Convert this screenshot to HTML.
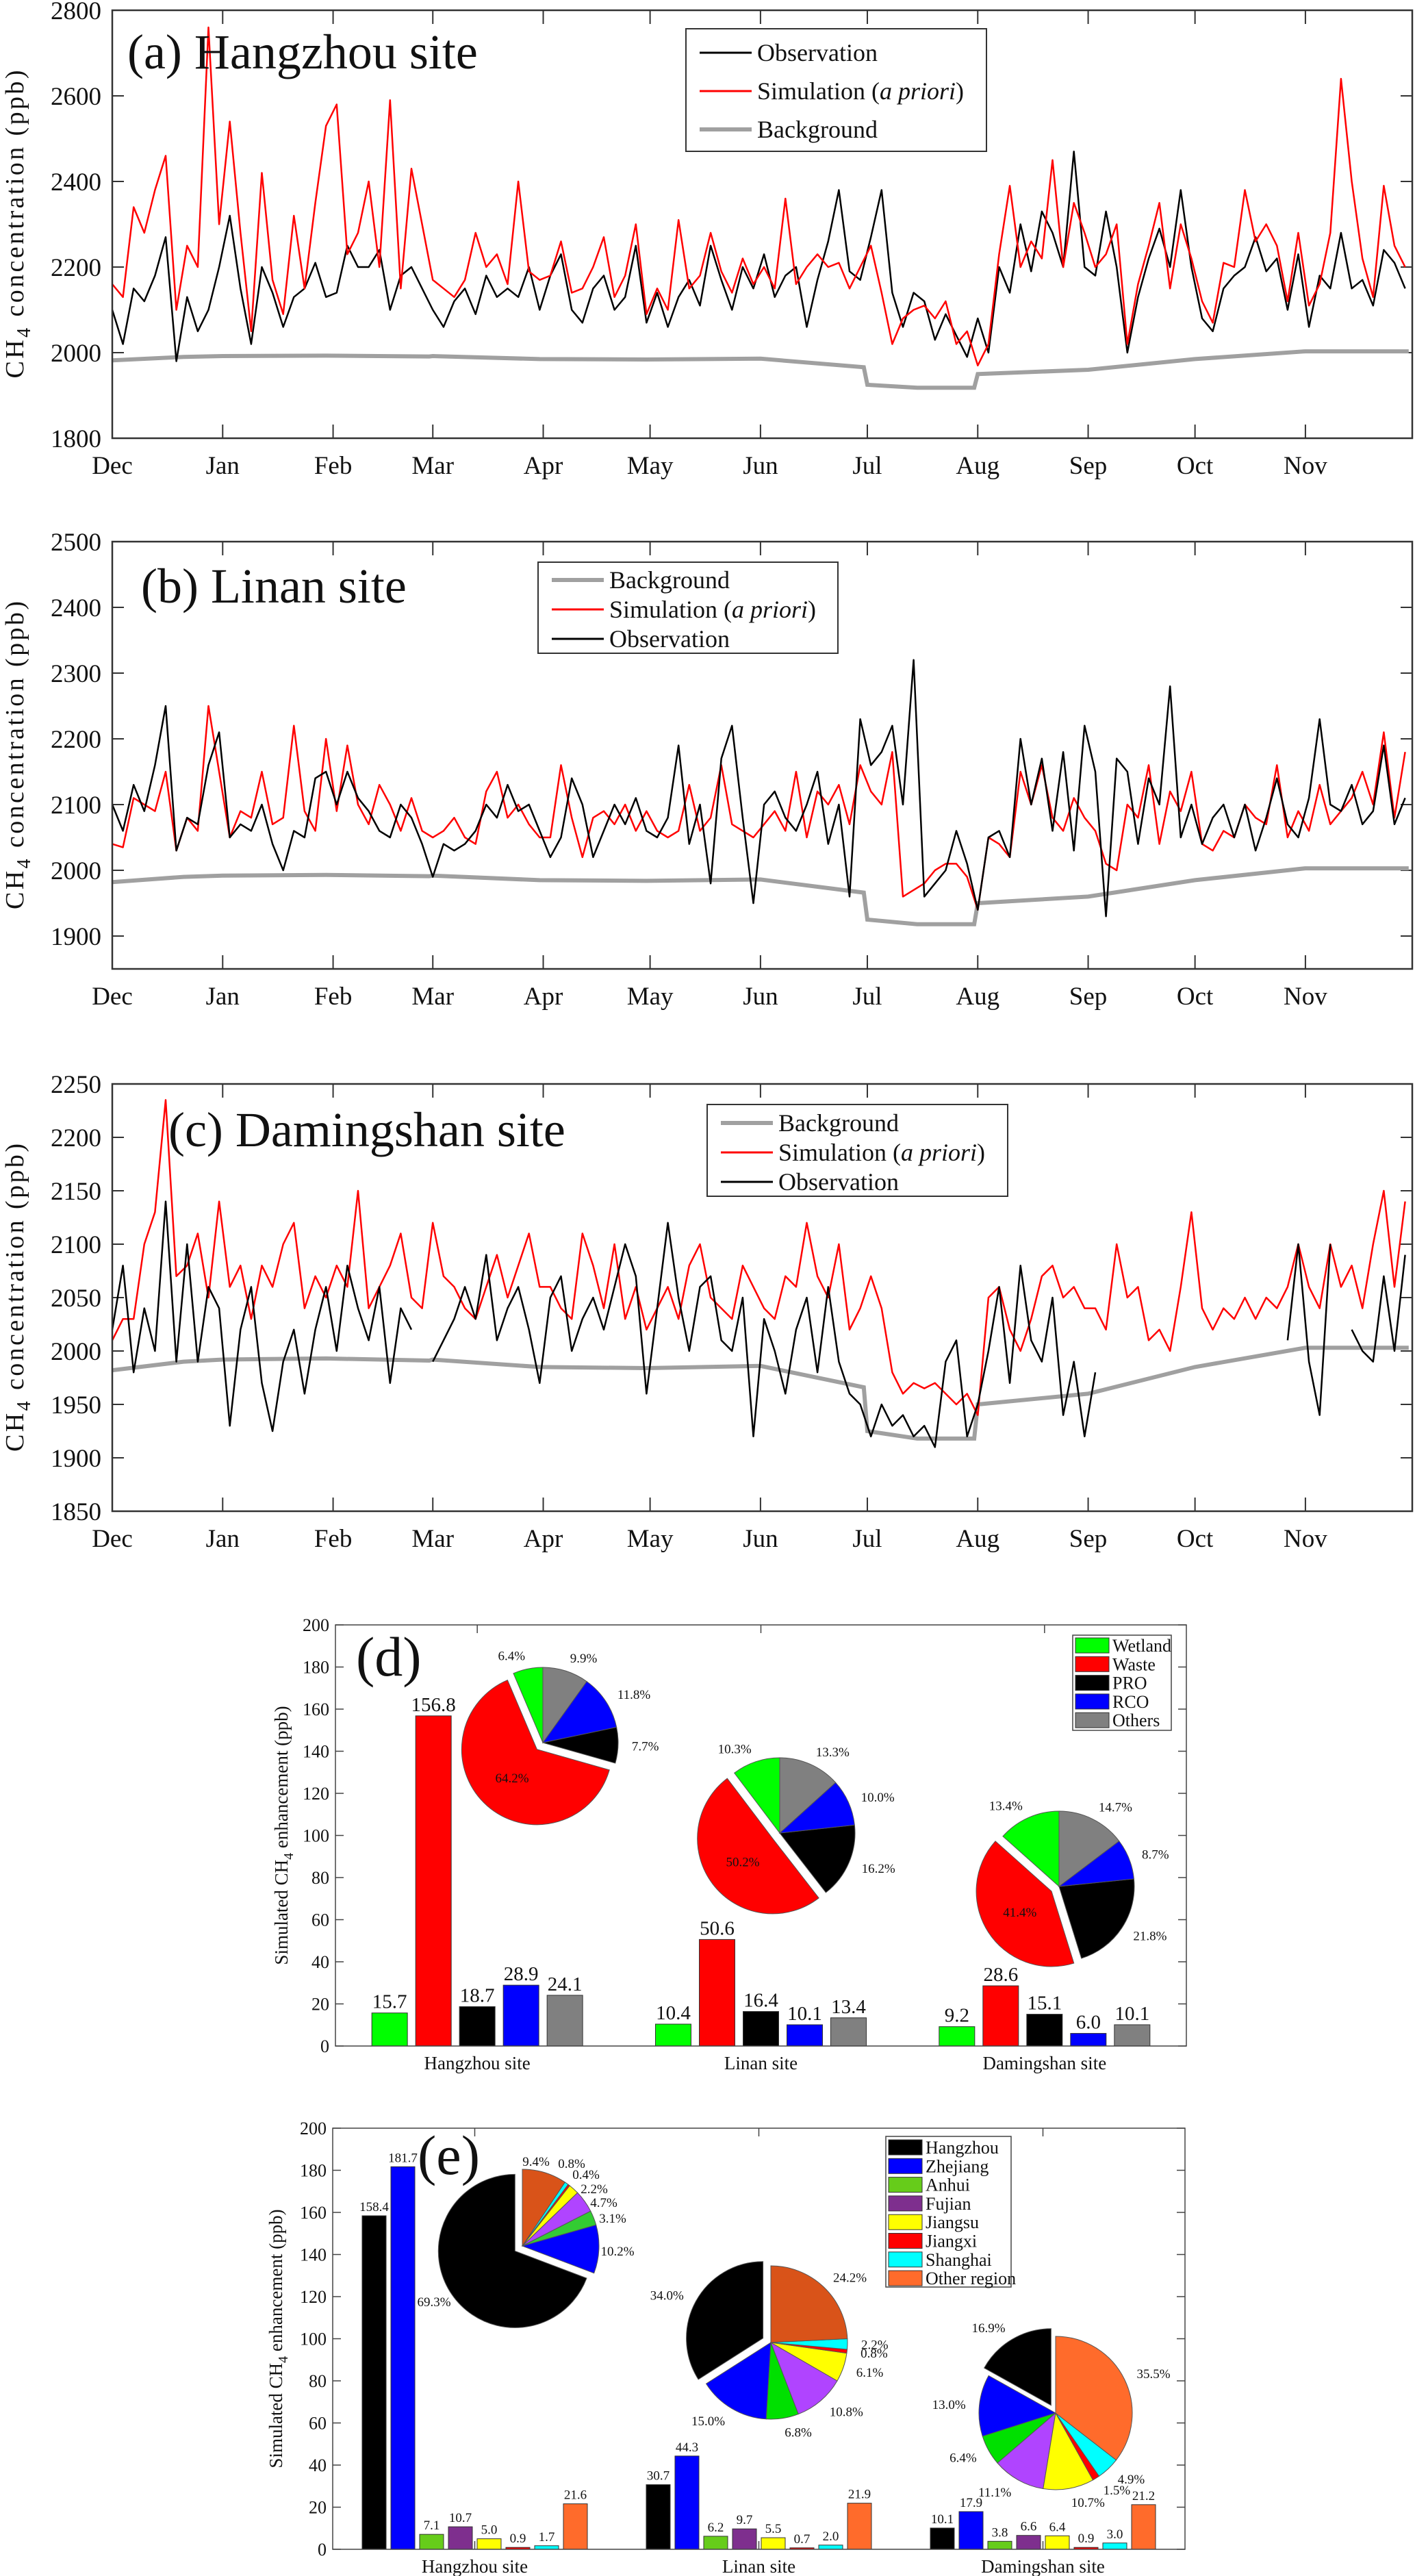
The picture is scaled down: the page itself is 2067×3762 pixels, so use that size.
<!DOCTYPE html>
<html><head><meta charset="utf-8"><style>
html,body{margin:0;padding:0;background:#fff}
svg{display:block}
text{font-family:"Liberation Serif",serif;fill:#111}
</style></head><body>
<svg id="fig" width="2067" height="3762" viewBox="0 0 2067 3762" xmlns="http://www.w3.org/2000/svg"></svg>
<script>
// ---------- time series data (every 3 days from Dec 1) ----------
const monthLabels=["Dec","Jan","Feb","Mar","Apr","May","Jun","Jul","Aug","Sep","Oct","Nov"];
const monthStartDays=[0,31,62,90,121,151,182,212,243,274,304,335];
const bgDays=[0,20,31,60,89,90,120,150,182,211,212,226,242,243,274,304,335,364];
const bgA=[1982,1990,1992,1993,1991,1992,1985,1984,1986,1966,1925,1918,1918,1950,1960,1985,2003,2003];
const bgB=[1982,1990,1992,1993,1991,1992,1985,1984,1986,1966,1925,1918,1918,1950,1960,1985,2003,2003];
const bgC=[1982,1990,1992,1993,1991,1992,1985,1984,1986,1966,1925,1918,1918,1950,1960,1985,2003,2003];
const obsA=[2100,2020,2150,2120,2180,2270,1980,2130,2050,2100,2200,
2320,2150,2020,2200,2140,2060,2130,2150,2210,2130,
2140,2250,2200,2200,2240,2100,2180,2200,2150,2100,
2060,2120,2150,2090,2180,2130,2150,2130,2200,2100,
2180,2230,2100,2070,2150,2180,2100,2130,2250,2070,
2140,2060,2130,2170,2110,2250,2170,2100,2200,2150,
2230,2130,2180,2200,2060,2170,2260,2380,2190,2170,
2270,2380,2140,2060,2140,2120,2030,2090,2040,1990,2080,
2000,2200,2140,2300,2190,2330,2280,2200,2470,2200,
2180,2330,2200,2000,2130,2220,2290,2200,2380,2200,
2080,2050,2150,2180,2200,2270,2190,2220,2100,2230,2060,
2180,2150,2280,2150,2170,2110,2240,2210,2150];
const simA=[2160,2130,2340,2280,2380,2460,2100,2250,2200,2760,2300,
2540,2280,2050,2420,2170,2090,2320,2150,2350,2530,
2580,2230,2280,2400,2200,2590,2150,2430,2300,2170,
2150,2130,2170,2280,2200,2230,2160,2400,2190,2170,
2180,2260,2140,2150,2200,2270,2130,2180,2300,2090,
2150,2100,2310,2150,2180,2280,2190,2140,2220,2160,
2200,2150,2360,2160,2200,2230,2200,2210,2150,2200,
2250,2140,2020,2080,2100,2110,2080,2120,2020,2050,1970,
2020,2230,2390,2200,2260,2220,2450,2200,2350,2280,
2200,2230,2300,2020,2160,2250,2350,2150,2300,2220,
2120,2070,2210,2200,2380,2260,2300,2250,2120,2280,2110,
2160,2280,2640,2400,2220,2130,2390,2250,2200];
const obsB=[2100,2060,2130,2090,2160,2250,2030,2080,2070,2160,2210,
2050,2070,2060,2100,2040,2000,2060,2050,2140,2150,
2100,2150,2110,2090,2060,2050,2100,2080,2040,1990,
2040,2030,2040,2060,2100,2080,2130,2090,2100,2060,
2020,2050,2140,2100,2020,2060,2100,2070,2110,2060,
2050,2080,2190,2040,2100,1980,2170,2220,2080,1950,
2100,2120,2080,2060,2100,2150,2040,2100,1960,2230,
2160,2180,2220,2100,2320,1960,1980,2000,2060,2010,1940,
2050,2060,2020,2200,2100,2170,2060,2180,2030,2220,
2150,1930,2170,2150,2040,2140,2100,2280,2050,2100,
2040,2080,2100,2050,2100,2030,2080,2140,2070,2050,2110,
2230,2100,2090,2130,2070,2090,2190,2070,2110];
const simB=[2040,2035,2110,2100,2090,2150,2030,2080,2060,2250,2150,
2050,2090,2080,2150,2070,2080,2220,2090,2060,2200,
2090,2190,2100,2070,2130,2100,2060,2110,2060,2050,
2060,2080,2050,2040,2120,2150,2080,2100,2070,2050,
2050,2160,2080,2020,2080,2090,2070,2100,2060,2090,
2060,2050,2060,2130,2060,2080,2160,2070,2060,2050,
2070,2090,2060,2150,2050,2120,2100,2130,2070,2160,
2120,2100,2180,1960,1970,1980,2000,2010,2010,1990,1940,
2050,2040,2020,2150,2100,2160,2080,2060,2110,2080,
2060,2010,2000,2100,2080,2160,2040,2120,2090,2150,
2040,2030,2060,2050,2100,2080,2070,2160,2050,2090,2060,
2130,2070,2090,2110,2150,2100,2210,2080,2180];
const obsC=[2020,2080,1980,2040,2000,2140,1990,2100,1990,2060,2040,
1930,2020,2060,1970,1925,1990,2020,1960,2020,2060,
2000,2080,2040,2010,2060,1970,2040,2020,null,1990,
2010,2030,2060,2030,2090,2010,2040,2060,2020,1970,
2050,2070,2000,2030,2050,2020,2060,2100,2070,1960,
2040,2120,2050,2000,2060,2070,2010,2000,2050,1920,
2030,2000,1960,2020,2050,1980,2060,1990,1960,1950,
1920,1950,1930,1940,1920,1930,1910,1990,2010,1920,1950,
2000,2060,1970,2080,2010,1990,2050,1940,1990,1920,
1980,null,null,null,null,null,null,null,null,null,
null,null,null,null,null,null,null,null,2010,2100,1990,
1940,2100,null,2020,2000,1990,2070,2000,2090];
const simC=[2010,2030,2030,2100,2130,2235,2070,2080,2110,2050,2140,
2060,2080,2030,2080,2060,2100,2120,2040,2070,2050,
2080,2060,2150,2040,2060,2080,2110,2050,2040,2120,
2070,2060,2040,2030,2060,2090,2050,2080,2110,2060,
2060,2040,2030,2110,2080,2040,2100,2030,2060,2020,
2040,2060,2030,2080,2100,2050,2040,2030,2080,2060,
2040,2030,2070,2060,2120,2070,2050,2100,2020,2040,
2070,2040,1980,1960,1970,1965,1970,1960,1950,1960,1940,
2050,2060,2020,2000,2030,2070,2080,2050,2060,2040,
2040,2020,2100,2050,2060,2010,2020,2000,2060,2130,
2040,2020,2040,2030,2050,2030,2050,2040,2060,2100,2060,
2040,2100,2060,2080,2040,2100,2150,2060,2140];
const ticksA=[1800,2000,2200,2400,2600,2800];
const ticksB=[1900,2000,2100,2200,2300,2400,2500];
const ticksC=[1850,1900,1950,2000,2050,2100,2150,2200,2250];

// ---------- bar/pie data ----------
const siteLabels=["Hangzhou site","Linan site","Damingshan site"];
const sectorNames=["Wetland","Waste","PRO","RCO","Others"];
const sectorWetland=[15.7,10.4,9.2];
const sectorWaste=[156.8,50.6,28.6];
const sectorPRO=[18.7,16.4,15.1];
const sectorRCO=[28.9,10.1,6.0];
const sectorOthers=[24.1,13.4,10.1];
const pieSecHangzhou=[6.4,64.2,7.7,11.8,9.9];
const pieSecLinan=[10.3,50.2,16.2,10.0,13.3];
const pieSecDamingshan=[13.4,41.4,21.8,8.7,14.7];
const regionNames=["Hangzhou","Zhejiang","Anhui","Fujian","Jiangsu","Jiangxi","Shanghai","Other region"];
const regHangzhou=[158.4,181.7,7.1,10.7,5.0,0.9,1.7,21.6];
const regLinan=[30.7,44.3,6.2,9.7,5.5,0.7,2.0,21.9];
const regDamingshan=[10.1,17.9,3.8,6.6,6.4,0.9,3.0,21.2];
const pieRegHangzhou=[69.3,10.2,3.1,4.7,2.2,0.4,0.8,9.4];
const pieRegLinan=[34.0,15.0,6.8,10.8,6.1,0.8,2.2,24.2];
const pieRegDamingshan=[16.9,13.0,6.4,11.1,10.7,1.5,4.9,35.5];
const barTicks=[0,20,40,60,80,100,120,140,160,180,200];

const NS="http://www.w3.org/2000/svg";
const svg=document.getElementById('fig');
function mk(tag,attrs,parent){const e=document.createElementNS(NS,tag);for(const k in attrs)e.setAttribute(k,attrs[k]);(parent||svg).appendChild(e);return e;}
function txt(s,attrs,parent){const e=mk('text',attrs,parent);e.textContent=s;return e;}

// ---------- time series panels ----------
function tsPanel(cfg){
  const g=mk('g',{});
  
  
  const L=164,R=2063,T=cfg.top,B=cfg.bottom;
  const xs=d=>L+d*(R-L)/365;
  const ys=v=>B-(v-cfg.ymin)/(cfg.ymax-cfg.ymin)*(B-T);
  cfg.ticks.forEach(v=>{
    const y=ys(v);
    const t1=mk('line',{x1:L,x2:L+17,y1:y,y2:y,stroke:'#333','stroke-width':2},g);
    
    mk('line',{x1:R-17,x2:R,y1:y,y2:y,stroke:'#333','stroke-width':2},g);
    const lb=txt(String(v),{x:148,y:y+13,'font-size':37,'text-anchor':'end'},g);
    
  });
  monthStartDays.forEach((d,i)=>{
    const x=xs(d);
    mk('line',{x1:x,x2:x,y1:B,y2:B-20,stroke:'#333','stroke-width':2},g);
    mk('line',{x1:x,x2:x,y1:T,y2:T+20,stroke:'#333','stroke-width':2},g);
    const lb=txt(monthLabels[i],{x:x,y:B+52,'font-size':37,'text-anchor':'middle'},g);
    
  });
  function path(vals,dayf){
    let d='',pen=false;
    vals.forEach((v,i)=>{if(v===null){pen=false;return;}d+=(pen?'L':'M')+xs(dayf(i)).toFixed(1)+' '+ys(v).toFixed(1);pen=true;});
    return d;
  }
  const bg=mk('path',{d:path(cfg.bg,i=>bgDays[i]),fill:'none',stroke:'#a0a0a0','stroke-width':6},g);
  
  const order=cfg.obsOnTop?[['sim','#ff0000'],['obs','#000']]:[['obs','#000'],['sim','#ff0000']];
  order.forEach(([k,c])=>{
    const p=mk('path',{d:path(cfg[k],i=>i*3),fill:'none',stroke:c,'stroke-width':2.5,'stroke-linejoin':'round'},g);
    
    
  });
  const fr=mk('rect',{x:L,y:T,width:R-L,height:B-T,fill:'none',stroke:'#333','stroke-width':2.5},g);
  
  const yt=txt('',{x:0,y:0,'font-size':38,'text-anchor':'middle',transform:`translate(34,${(T+B)/2}) rotate(-90)`,textLength:cfg.ylen,lengthAdjust:'spacing'},g);
  yt.innerHTML='CH<tspan font-size="28" dy="10">4</tspan><tspan dy="-10"> concentration (ppb)</tspan>';
  
  const tl=txt(cfg.label,{x:cfg.tx,y:cfg.ty,'font-size':72},g);
  
  const lg=mk('g',{},g);
  
  mk('rect',{x:cfg.lx,y:cfg.ly,width:cfg.lw,height:cfg.lh,fill:'#fff',stroke:'#333','stroke-width':2},lg);
  cfg.legend.forEach((it,i)=>{
    const y=cfg.ly+cfg.lfirst+i*cfg.lstep;
    mk('line',{x1:cfg.lx+20,x2:cfg.lx+96,y1:y,y2:y,stroke:it[1],'stroke-width':it[2]},lg);
    const t=txt('',{x:cfg.lx+104,y:y+12,'font-size':36},lg);
    t.innerHTML=it[0];
    
  });
}
const legObs=['Observation','#000',3], legSim=['Simulation (<tspan font-style="italic">a priori</tspan>)','#ff0000',3], legBg=['Background','#a0a0a0',6];
tsPanel({name:'panel-a-hangzhou',top:15,bottom:640,ymin:1800,ymax:2800,ticks:ticksA,bg:bgA,obs:obsA,sim:simA,label:'(a) Hangzhou site',tx:186,ty:100,ylen:450,
  lx:1002,ly:42,lw:439,lh:179,lfirst:35,lstep:56,legend:[legObs,legSim,legBg]});
tsPanel({name:'panel-b-linan',top:791,bottom:1415,ymin:1850,ymax:2500,ticks:ticksB,bg:bgB,obs:obsB,sim:simB,label:'(b) Linan site',tx:206,ty:880,ylen:450,obsOnTop:true,
  lx:786,ly:821,lw:438,lh:133,lfirst:26,lstep:43,legend:[legBg,legSim,legObs]});
tsPanel({name:'panel-c-damingshan',top:1583,bottom:2207,ymin:1850,ymax:2250,ticks:ticksC,bg:bgC,obs:obsC,sim:simC,label:'(c) Damingshan site',tx:246,ty:1674,ylen:450,obsOnTop:true,
  lx:1033,ly:1613,lw:439,lh:134,lfirst:27,lstep:43,legend:[legBg,legSim,legObs]});

// ---------- bar panels ----------
function barPanel(cfg){
  const g=mk('g',{});
  
  
  const L=cfg.L,R=cfg.R,T=cfg.T,B=cfg.B;
  const unit=(R-L)/3;
  const gx=i=>L+(i+0.5)*unit;
  const ys=v=>B-v/200*(B-T);
  barTicks.forEach(v=>{
    const y=ys(v);
    mk('line',{x1:L,x2:L+12,y1:y,y2:y,stroke:'#444','stroke-width':1.5},g);
    mk('line',{x1:R-12,x2:R,y1:y,y2:y,stroke:'#444','stroke-width':1.5},g);
    const t=txt(String(v),{x:L-9,y:y+9,'font-size':26,'text-anchor':'end'},g);
    
  });
  siteLabels.forEach((s,i)=>{
    const x=gx(i);
    mk('line',{x1:x,x2:x,y1:B,y2:B-12,stroke:'#444','stroke-width':1.5},g);
    mk('line',{x1:x,x2:x,y1:T,y2:T+12,stroke:'#444','stroke-width':1.5},g);
    const t=txt(s,{x:x,y:B+34,'font-size':27,'text-anchor':'middle'},g);
    
  });
  const n=cfg.series.length;
  cfg.series.forEach((arr,k)=>{
    arr.forEach((v,i)=>{
      const cx=gx(i)+(k-(n-1)/2)*cfg.step;
      const r=mk('rect',{x:cx-cfg.bw/2,y:ys(v),width:cfg.bw,height:ys(0)-ys(v),fill:cfg.colors[k],stroke:'#333','stroke-width':1},g);
      
      
      const t=txt(v.toFixed(1),{x:cx,y:ys(v)-7,'font-size':cfg.vfs,'text-anchor':'middle'},g);
      
    });
  });
  mk('rect',{x:L,y:T,width:R-L,height:B-T,fill:'none',stroke:'#444','stroke-width':1.5},g);
  const yt=txt('',{x:0,y:0,'font-size':27,'text-anchor':'middle',transform:`translate(${cfg.ytx},${(T+B)/2}) rotate(-90)`},g);
  yt.innerHTML='Simulated CH<tspan font-size="20" dy="8">4</tspan><tspan dy="-8"> enhancement (ppb)</tspan>';
  
  const pl=txt(cfg.label,{x:cfg.lbx,y:cfg.lby,'font-size':82},g);
  
  cfg.pies.forEach((p,pi)=>{
    const pg=mk('g',{},g);
    
    
    const tot=p.vals.reduce((a,b)=>a+b,0);
    let a0=0;
    p.vals.forEach((v,k)=>{
      const frac=v/tot, a1=a0+frac*2*Math.PI, am=(a0+a1)/2;
      const ex=k===cfg.explode?13:0;
      const cx=p.cx-ex*Math.sin(am), cy=p.cy-ex*Math.cos(am);
      const pt=a=>[cx-p.r*Math.sin(a),cy-p.r*Math.cos(a)];
      const s=pt(a0),e=pt(a1);
      const large=(a1-a0)>Math.PI?1:0;
      const sl=mk('path',{d:`M${cx} ${cy}L${s[0]} ${s[1]}A${p.r} ${p.r} 0 ${large} 0 ${e[0]} ${e[1]}Z`,fill:(p.colors||cfg.colors)[k],stroke:'#555','stroke-width':1},pg);
      
      
      const pct=(p.pct?p.pct[k]:frac*100).toFixed(1)+'%';
      const inside=cfg.insideIdx===k;
      let lx,ly,anchor;
      if(p.labelPos){lx=p.labelPos[k][0];ly=p.labelPos[k][1];anchor='middle';}
      else{
        const rr=inside?p.r*0.5:p.r+20;
        lx=cx-rr*Math.sin(am); ly=cy-rr*Math.cos(am);
        anchor=inside?'middle':(Math.sin(am)>0.15?'end':(Math.sin(am)<-0.15?'start':'middle'));
      }
      const t=txt(pct,{x:lx,y:ly+7,'font-size':19,'text-anchor':anchor},pg);
      
      a0=a1;
    });
  });
  const lg=mk('g',{},g);
  
  mk('rect',{x:cfg.lgx,y:cfg.lgy,width:cfg.lgw,height:cfg.lgh,fill:'#fff',stroke:'#444','stroke-width':1.5},lg);
  cfg.names.forEach((nm,k)=>{
    const y=cfg.lgy+cfg.lgfirst+k*cfg.lgstep;
    mk('rect',{x:cfg.lgx+4,y:y-11,width:49,height:22,fill:cfg.colors[k],stroke:'#333','stroke-width':1},lg);
    const t=txt(nm,{x:cfg.lgx+58,y:y+9,'font-size':26},lg);
    
  });
}
const secColors=['#00ff00','#ff0000','#000000','#0000ff','#808080'];
const secPies=[pieSecHangzhou,pieSecLinan,pieSecDamingshan];
barPanel({name:'panel-d-sectors',L:490,R:1733,T:2373,B:2988,series:[sectorWetland,sectorWaste,sectorPRO,sectorRCO,sectorOthers],
  names:sectorNames,colors:secColors,step:64,bw:52,vfs:29,ytx:420,label:'(d)',lbx:520,lby:2447,explode:1,insideIdx:1,
  pies:[0,1,2].map(i=>({vals:secPies[i],pct:secPies[i],cx:[793,1139,1547][i],cy:[2545,2677,2755][i],r:110})),
  lgx:1567,lgy:2388,lgw:144,lgh:139,lgfirst:15,lgstep:27.3});
const regColors=['#000000','#0000ff','#66cc1a','#7e2f8e','#ffff00','#ff0000','#00ffff','#ff6b2b'];
barPanel({name:'panel-e-regions',L:486,R:1731,T:3108,B:3723,series:regionNames.map((n,k)=>[regHangzhou[k],regLinan[k],regDamingshan[k]]),
  names:regionNames,colors:regColors,step:42,bw:35,vfs:19,ytx:412,label:'(e)',lbx:610,lby:3175,explode:0,insideIdx:-1,
  pies:[
    {vals:pieRegHangzhou,pct:pieRegHangzhou,cx:763,cy:3280,r:112,colors:['#000000','#0000ff','#33cc33','#b044ff','#ffff00','#ff0000','#00ffff','#d95319'],
     labelPos:[[634,3361],[902,3287],[895,3239],[882,3216],[868,3196],[856,3175],[835,3159],[783,3156]]},
    {vals:pieRegLinan,pct:pieRegLinan,cx:1126,cy:3421,r:112,colors:['#000000','#0000ff','#00e000','#b044ff','#ffff00','#ff0000','#00ffff','#d95319']},
    {vals:pieRegDamingshan,pct:pieRegDamingshan,cx:1542,cy:3524,r:112,colors:['#000000','#0000ff','#00e000','#b044ff','#ffff00','#ff0000','#00ffff','#ff6b2b']}],
  lgx:1294,lgy:3120,lgw:183,lgh:220,lgfirst:16,lgstep:27.3});
</script>
</body></html>
